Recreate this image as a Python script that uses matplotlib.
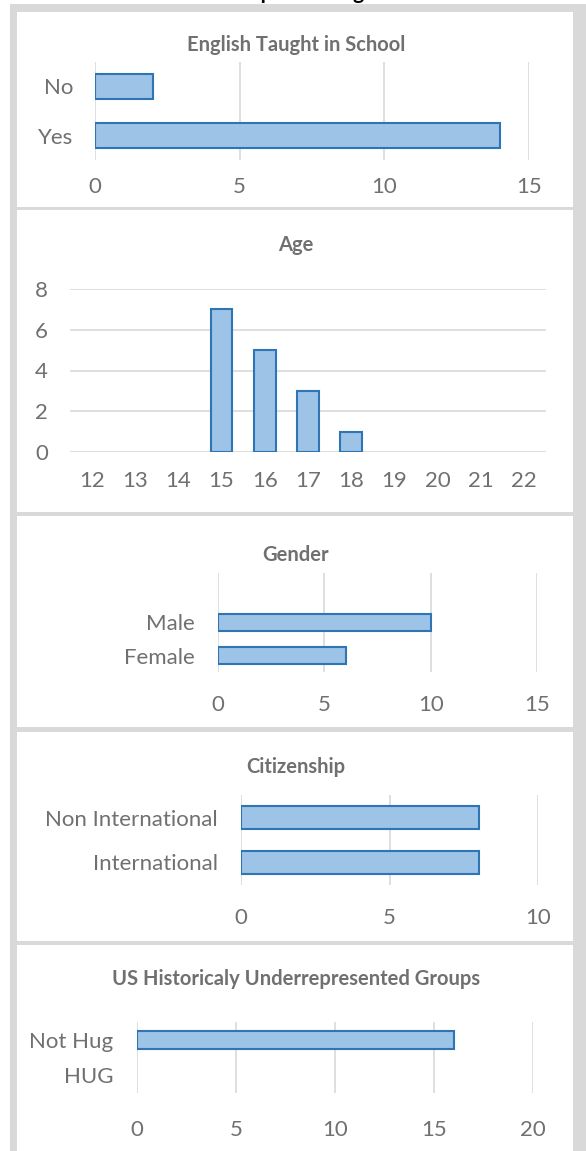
import matplotlib.pyplot as plt
from matplotlib.patches import Rectangle

W, H = 586, 1151

english_cats = ["Yes", "No"]
english_vals = [14, 2]

age_cats = ["12", "13", "14", "15", "16", "17", "18", "19", "20", "21", "22"]
age_vals = [0, 0, 0, 7, 5, 3, 1, 0, 0, 0, 0]

gender_cats = ["Female", "Male", ""]
gender_vals = [6, 10, 0]

citizen_cats = ["International", "Non International"]
citizen_vals = [8, 8]

hug_cats = ["HUG", "Not Hug"]
hug_vals = [0, 16]

FILL = "#9dc3e6"
EDGE = "#2e75b6"
GRID = "#d9d9d9"
TXT = "#707070"
FONT = "Lato"
TICK_FS = 16
TITLE_FS = 14.5

plt.rcParams["font.family"] = [FONT, "DejaVu Sans"]

fig = plt.figure(figsize=(W / 100, H / 100), dpi=100)
fig.patch.set_facecolor("white")


def px_rect(x0, y0, x1, y1):
    return [x0 / W, 1 - y1 / H, (x1 - x0) / W, (y1 - y0) / H]


def pt(px):
    return px * 0.72


# grey frame and white panels
fig.add_artist(Rectangle((10 / W, 0), 1, 1 - 4 / H, transform=fig.transFigure,
                         facecolor=GRID, edgecolor="none", zorder=-10))
panels = [(12, 207), (210, 512), (516, 727), (732, 941), (945, 1151)]
for top, bot in panels:
    fig.add_artist(Rectangle((17 / W, 1 - bot / H), (573 - 17) / W, (bot - top) / H,
                             transform=fig.transFigure, facecolor="white",
                             edgecolor="none", zorder=-9))

# main title, mostly cut off at the top edge as in the source image
fig.text(310 / W, 1 + 1 / H, "Participant Background", ha="center", va="baseline",
         fontsize=15, fontweight="bold", color="black")


def style(ax):
    for s in ax.spines.values():
        s.set_visible(False)
    ax.tick_params(length=0, labelsize=TICK_FS, labelcolor=TXT)
    ax.set_axisbelow(True)


def hide_zero(bars):
    for b in bars:
        if b.get_width() == 0 or b.get_height() == 0:
            b.set_visible(False)


def hbar(rect, cats, vals, xmax, step, title, title_y, xpad, ypad):
    ax = fig.add_axes(px_rect(*rect))
    pos = list(range(len(cats)))
    bars = ax.barh(pos, vals, height=0.5, color=FILL, edgecolor=EDGE, linewidth=1.5)
    hide_zero(bars)
    ax.set_xlim(0, xmax)
    ax.set_ylim(-0.5, len(cats) - 0.5)
    ax.set_xticks(range(0, xmax + 1, step))
    ax.set_yticks(pos)
    ax.set_yticklabels(cats)
    ax.grid(axis="x", color=GRID, linewidth=1.2)
    style(ax)
    ax.tick_params(axis="x", pad=pt(xpad))
    ax.tick_params(axis="y", pad=pt(ypad))
    fig.text(296 / W, 1 - title_y / H, title, ha="center", va="center",
             fontsize=TITLE_FS, fontweight="bold", color=TXT)
    return ax


hbar((95, 62, 529, 160), english_cats, english_vals, 15, 5,
     "English Taught in School", 45, 17, 22)

# Age column chart
ax = fig.add_axes(px_rect(70, 289, 546, 452))
bars = ax.bar(range(len(age_cats)), age_vals, width=0.5, color=FILL,
              edgecolor=EDGE, linewidth=1.5)
hide_zero(bars)
ax.set_ylim(0, 8)
ax.set_xlim(-0.5, len(age_cats) - 0.5)
ax.set_yticks(range(0, 9, 2))
ax.set_xticks(range(len(age_cats)))
ax.set_xticklabels(age_cats)
ax.grid(axis="y", color=GRID, linewidth=1.2)
style(ax)
ax.tick_params(axis="x", pad=pt(19))
ax.tick_params(axis="y", pad=pt(22))
fig.text(296 / W, 1 - 245 / H, "Age", ha="center", va="center",
         fontsize=TITLE_FS, fontweight="bold", color=TXT)

hbar((218, 573, 537, 672), gender_cats, gender_vals, 15, 5,
     "Gender", 555, 23, 23)
hbar((241, 795, 538, 885), citizen_cats, citizen_vals, 10, 5,
     "Citizenship", 767, 23, 23)
hbar((137, 1022, 533, 1093), hug_cats, hug_vals, 20, 5,
     "US Historicaly Underrepresented Groups", 979, 27, 24)

fig.savefig("out.png", dpi=100)
